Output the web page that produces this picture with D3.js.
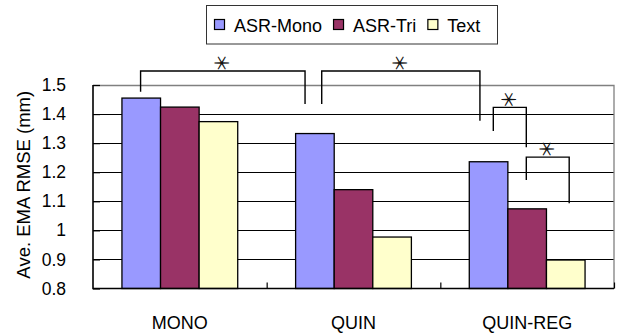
<!DOCTYPE html>
<html>
<head>
<meta charset="utf-8">
<script src="https://d3js.org/d3.v7.min.js"></script>
<style>
  body { margin: 0; background: #fff; }
  text { font-family: "Liberation Sans", Arial, sans-serif; fill: #000; }
</style>
</head>
<body>
<svg id="chart" width="620" height="336"></svg>
<script>
// data
const categories = ["MONO", "QUIN", "QUIN-REG"];
const seriesNames = ["ASR-Mono", "ASR-Tri", "Text"];
const asrMono = [1.455, 1.333, 1.236];
const asrTri  = [1.424, 1.140, 1.074];
const textSer = [1.374, 0.977, 0.898];
const yTicks = [0.8, 0.9, 1, 1.1, 1.2, 1.3, 1.4, 1.5];
const colors = ["#9999FF", "#993366", "#FFFFCC"];

// significance brackets: x in category units, y in RMSE units
const bracketX0   = [0.274, 1.317, 2.305, 2.495];
const bracketX1   = [1.221, 2.228, 2.495, 2.742];
const bracketTop  = [1.548, 1.548, 1.423, 1.252];
const bracketLeg0 = [1.477, 1.435, 1.342, 1.173];
const bracketLeg1 = [1.435, 1.377, 1.286, 1.093];

const values = [asrMono, asrTri, textSer];

const svg = d3.select("#chart");
const L = 93, R = 614, T = 85, B = 288.5;

const x0 = d3.scaleBand().domain(categories).range([L, R]).paddingInner(0).paddingOuter(0);
const x1 = d3.scaleBand().domain(seriesNames).range([0, x0.bandwidth()]).paddingInner(0).paddingOuter(0.75);
const xc = d3.scaleLinear().domain([0, 3]).range([L, R]);
const y = d3.scaleLinear().domain([0.8, 1.5]).range([B, T]);

// gridlines
svg.append("g").selectAll("line").data(yTicks.slice(1, -1)).join("line")
  .attr("x1", L).attr("x2", R)
  .attr("y1", d => Math.round(y(d)) + 0.5).attr("y2", d => Math.round(y(d)) + 0.5)
  .attr("stroke", "#000").attr("stroke-width", 1);

// plot frame top/right (grey)
svg.append("path")
  .attr("d", `M${L},${Math.round(y(1.5)) + 0.5}H${R}V${B}`)
  .attr("fill", "none").attr("stroke", "#808080").attr("stroke-width", 1.3);

// bars
const rows = categories.map((c, i) => seriesNames.map((s, j) => ({cat: c, s: s, v: values[j][i], j: j})));
svg.append("g").selectAll("g").data(rows).join("g")
  .attr("transform", d => `translate(${x0(d[0].cat)},0)`)
  .selectAll("rect").data(d => d).join("rect")
  .attr("x", d => x1(d.s))
  .attr("y", d => y(d.v))
  .attr("width", x1.bandwidth())
  .attr("height", d => y(0.8) - y(d.v))
  .attr("fill", d => colors[d.j])
  .attr("stroke", "#000").attr("stroke-width", 1.3);

// y axis
const yAxis = svg.append("g").attr("transform", `translate(${L},0)`)
  .call(d3.axisLeft(y).tickValues(yTicks).tickSize(-7).tickPadding(27)
    .tickFormat(d => d3.format("~g")(d)));
yAxis.select(".domain").remove();
yAxis.selectAll(".tick line").attr("stroke", "#000").attr("stroke-width", 1.2);
yAxis.selectAll("text").style("font-size", "17.5px")
  .style("font-family", "'Liberation Sans', Arial, sans-serif");

// x axis
const xAxis = svg.append("g").attr("transform", `translate(0,${B})`)
  .call(d3.axisBottom(xc).tickValues([1, 2, 3]).tickSize(-6).tickFormat(""));
xAxis.select(".domain").remove();
xAxis.selectAll(".tick line").attr("stroke", "#000").attr("stroke-width", 1.2);

svg.append("path")
  .attr("d", `M${L},${T}V${B}H${R}`)
  .attr("fill", "none").attr("stroke", "#000").attr("stroke-width", 1.6);

svg.append("g").selectAll("text").data(categories).join("text")
  .attr("x", d => x0(d) + x0.bandwidth() / 2)
  .attr("y", 329)
  .attr("text-anchor", "middle")
  .style("font-size", "18px")
  .text(d => d);

// y title
svg.append("text")
  .attr("transform", `translate(30,${(T + B) / 2 - 2}) rotate(-90)`)
  .attr("text-anchor", "middle")
  .style("font-size", "18.5px")
  .text("Ave. EMA RMSE (mm)");

// brackets
const br = bracketX0.map((d, i) => ({x0: d, x1: bracketX1[i], top: bracketTop[i], l0: bracketLeg0[i], l1: bracketLeg1[i]}));
const bg = svg.append("g");
bg.selectAll("path").data(br).join("path")
  .attr("d", d => `M${xc(d.x0)},${y(d.l0)}V${y(d.top)}H${xc(d.x1)}V${y(d.l1)}`)
  .attr("fill", "none").attr("stroke", "#000").attr("stroke-width", 1.4);
bg.selectAll("text").data(br).join("text")
  .attr("transform", d => `translate(${(xc(d.x0) + xc(d.x1)) / 2},${y(d.top) - 8}) rotate(90)`)
  .attr("text-anchor", "middle")
  .attr("dominant-baseline", "central")
  .style("font-family", "'Noto Sans CJK JP', sans-serif")
  .style("font-size", "19px")
  .style("fill", "#111")
  .text("＊");

// legend
const lg = svg.append("g");
lg.append("rect").attr("x", 206.5).attr("y", 5.5).attr("width", 291).attr("height", 38.5)
  .attr("fill", "#fff").attr("stroke", "#333").attr("stroke-width", 1);
let lx = 214;
seriesNames.forEach((s, i) => {
  lg.append("rect").attr("x", lx + 0.5).attr("y", 19.5).attr("width", 10).attr("height", 10)
    .attr("fill", colors[i]).attr("stroke", "#000").attr("stroke-width", 1.2);
  const t = lg.append("text").attr("x", lx + 20).attr("y", 31.5)
    .style("font-size", "18px").text(s);
  lx = lx + 20 + t.node().getComputedTextLength() + 11;
});
</script>
</body>
</html>
